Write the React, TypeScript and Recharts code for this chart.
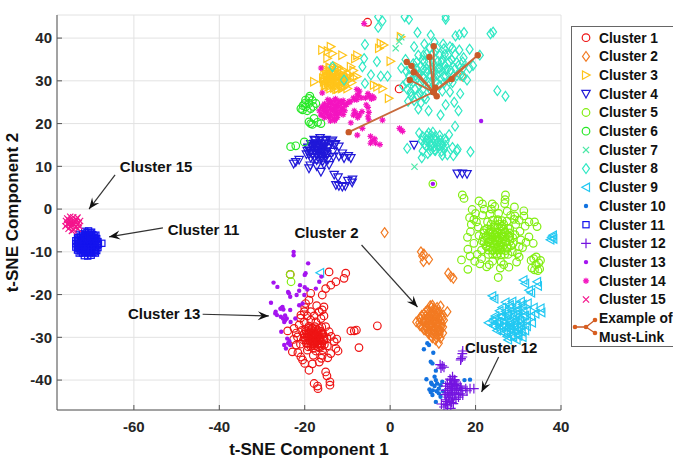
import { ScatterChart, Scatter, XAxis, YAxis, CartesianGrid, ReferenceLine } from 'recharts'

type Pt = [number, number]

const xTicks = [-60, -40, -20, 0, 20, 40]
const yTicks = [-40, -30, -20, -10, 0, 10, 20, 30, 40]

const cluster1: Pt[] = [[-14.3,-14.7],[-10.4,-15],[-10.8,-16.2],[-12.7,-17],[-13.9,-17.8],[-15.1,-18.6],[-15.9,-20.1],[-18.6,-19.7],[-19,-21.3],[-19.8,-22.1],[-15.5,-22.9],[-15.9,-23.6],[-16.6,-24],[-18.6,-24],[-20.1,-24],[-20.9,-24.8],[-16.2,-25.6],[-17.4,-26.4],[-18.6,-26],[-20.1,-26.4],[-21.3,-27.1],[-22.5,-27.9],[-24,-28.5],[-21.7,-29.9],[-14.3,-28.7],[-15.1,-27.5],[-13.1,-31],[-12.7,-32.6],[-12.2,-33.2],[-13.9,-33.8],[-15.9,-34.2],[-16.1,-34.9],[-18,-34.2],[-19.4,-33],[-22.9,-33.4],[-20.9,-34.6],[-20.5,-35.3],[-20,-36.1],[-19,-37.7],[-15.1,-38.1],[-14.8,-39],[-14.1,-40.4],[-14.1,-41.2],[-17.8,-40.8],[-17,-41.4],[-16.9,-42],[-9.2,-28.5],[-8.4,-28.5],[-7.9,-28.3],[-3,-27.3],[-7.3,-32.4],[-5.3,43.7],[2.1,28.1],[-23.4,-15.3],
[-17.9,-30.2],[-18.6,-29.6],[-17.2,-29.4],[-18.9,-30.8],[-17.1,-31],[-16.5,-30.2],[-19.4,-30],[-18,-28.9],[-17.8,-31.5],[-19.6,-31.4],[-16.4,-31.6],[-18.5,-28.2],[-17,-28.3],[-15.8,-29],[-20.1,-29.2],[-20.3,-30.6],[-15.5,-30.4],[-19.2,-32.2],[-18,-32.6],[-16.7,-32.4],[-15.4,-31.7],[-19.8,-28.2],[-16,-27.6],[-17.6,-27.5],[-19,-27.4],[-20.7,-28.4],[-14.8,-30.1],[-21,-31.6],[-14.7,-32],[-17.4,-33.2],[-15.8,-33],[-18.4,-30.2],[-17.5,-30.6],[-18.2,-31.1],[-16.9,-29.9],[-19,-29.2],[-18.1,-29.4]]
const cluster1Core: Pt[] = [[-19.1,-27.9],[-18.2,-27.8],[-17.3,-28],[-16.5,-27.9],[-19.7,-28.6],[-18.8,-28.7],[-17.9,-28.5],[-17.1,-28.7],[-16.2,-28.6],[-20.2,-29.3],[-19.4,-29.2],[-18.5,-29.4],[-17.6,-29.3],[-16.8,-29.2],[-15.9,-29.4],[-20,-30],[-19.1,-30.1],[-18.3,-29.9],[-17.4,-30],[-16.6,-30.1],[-15.7,-29.9],[-19.8,-30.7],[-18.9,-30.6],[-18,-30.8],[-17.2,-30.7],[-16.3,-30.6],[-15.6,-30.8],[-19.2,-31.4],[-18.4,-31.5],[-17.6,-31.3],[-16.8,-31.4],[-16,-31.5],[-18.6,-32.1],[-17.7,-32],[-16.9,-32.2],[-16.1,-32.1],[-21,-25.5],[-19.4,-25],[-17.8,-25],[-15.5,-25],[-22,-29],[-22.6,-30.5],[-13.8,-29.8],[-12.5,-30.4],[-20,-23],[-17.2,-22.6],[-22,-31.8],[-18.2,-36.2],[-16.6,-35.8],[-14.6,-34.8],[-21.6,-33.6]]
const cluster2: Pt[] = [[-1.3,-5.5],[7.5,-11],[7.9,-10.5],[9.1,-11.8],[7.2,-10],[7.8,-12.3],[13.6,-15],[14.2,-15.8],[14.8,-16.2],[9.9,-22.5],[11.8,-22.7],[13.4,-24],[12.6,-26],[11.4,-31.4],[10.6,-30.6],[11.8,-30.2],[6.1,-26.4],[7,-25.4],[7,-27.3],[7.9,-24.5],[7.9,-26.4],[7.9,-28.2],[8.8,-23.6],[8.8,-25.2],[8.8,-26.8],[8.8,-28.6],[9.7,-23],[9.7,-24.4],[9.7,-25.8],[9.7,-27.2],[9.7,-28.8],[9.7,-29.9],[10.6,-23.6],[10.6,-25],[10.6,-26.4],[10.6,-27.8],[10.6,-29],[11.5,-24],[11.5,-25.6],[11.5,-27],[11.5,-28.4],[11.5,-29.5],[12.4,-24.8],[12.4,-27.6],[12.4,-29],[9.2,-25.3],[10.1,-26.2],[9.3,-27],[10.2,-28.2],[11,-26.7],[8.4,-25.9],[8.4,-27.4],[11,-24.4],[16.9,31.1]]
const cluster2Core: Pt[] = [[8.3,-24],[9.2,-24.1],[10.1,-23.9],[11,-24],[7.4,-24.9],[8.3,-25],[9.2,-24.8],[10.1,-24.9],[11,-25],[11.9,-24.8],[7,-25.7],[7.9,-25.8],[8.8,-25.6],[9.7,-25.7],[10.6,-25.8],[11.5,-25.7],[12.3,-25.6],[6.8,-26.6],[7.7,-26.5],[8.6,-26.7],[9.5,-26.6],[10.4,-26.5],[11.3,-26.6],[12.1,-26.7],[7.5,-27.5],[8.4,-27.6],[9.3,-27.4],[10.2,-27.5],[11.1,-27.6],[12,-27.4],[8.2,-28.3],[9.1,-28.4],[10,-28.2],[10.9,-28.3],[11.8,-28.4],[9,-29.2],[9.9,-29.1],[10.8,-29.3],[11.6,-29.2],[9.9,-30.1],[10.8,-30],[10.2,-23.3],[9.4,-22.6],[11,-23]]
const cluster3: Pt[] = [[-15.9,37.2],[-13.9,38],[-14.6,37],[-11.2,36],[-14.7,35.3],[-13.5,36.4],[-9.2,33.3],[-17.8,29.8],[-7.7,36],[-8.2,35.2],[-2.2,38.8],[-2.6,37.6],[-1.5,38.4],[0.1,34.6],[-3.8,29],[-1.8,28.2],[-3,28.6],[-0.3,25.9],[2.5,40.3],[-13.5,30.6],[-14.6,29.6],[-12.4,29.8],[-14.9,31.6],[-13.5,32],[-12,31.2],[-15.2,30.4],[-13.2,29],[-14.4,28.6],[-11.2,30.2],[-10.8,32.4],[-12.4,33.4],[-14.2,33.2],[-15,32.6],[-11,28.4],[-12.6,28],[-15.3,28.8],[-10,31],[-9.6,30.2],[-8.6,30.8],[-13.8,30.9],[-13,30.4],[-14.2,30.2],[-12.8,31.6]]
const cluster3Core: Pt[] = [[-14,33],[-13.1,33.1],[-12.2,32.9],[-15,32.2],[-14.1,32.3],[-13.2,32.1],[-12.3,32.2],[-11.4,32.3],[-15.4,31.4],[-14.5,31.5],[-13.6,31.3],[-12.7,31.4],[-11.8,31.5],[-10.9,31.3],[-15.7,30.6],[-14.8,30.7],[-13.9,30.5],[-13,30.6],[-12.1,30.7],[-11.2,30.5],[-10.3,30.6],[-15.5,29.8],[-14.6,29.9],[-13.7,29.7],[-12.8,29.8],[-11.9,29.9],[-11,29.7],[-15,29],[-14.1,29.1],[-13.2,28.9],[-12.3,29],[-11.4,29.1],[-10.5,28.9],[-14,28.2],[-13.1,28.3],[-12.2,28.1],[-11.3,28.2],[-9.5,31.5],[-8.6,32.4],[-7.8,31],[-9,29.6],[-10,28.2]]
const cluster4: Pt[] = [[-22.1,11],[-21.3,11.5],[-19,9.5],[-18.7,10.2],[-16.2,8.7],[-13.1,8],[-12.7,5.6],[-11.2,5.2],[-10.5,5.4],[-8.8,6.9],[-9.9,6.6],[-9.2,11.9],[-10.8,11.9],[-11.2,13],[-12,14.6],[-14.3,10.3],[5.6,15],[15.7,8.3],[16.9,8.3],[18,8.2],[-16.6,14.2],[-17.6,13.6],[-15.6,13.4],[-18.2,14.8],[-16.9,15.4],[-15.4,15.2],[-14.4,14.2],[-18.7,13.2],[-17.2,12.6],[-16,12.4],[-14.8,12.8],[-19.2,14.2],[-17.8,16.2],[-16.4,16.6],[-15,16.2],[-13.8,15.6],[-13.4,13.4],[-18.6,12],[-17.2,11.4],[-15.8,11.2],[-14.6,11.5],[-19.6,12.8],[-16.2,13.6],[-17,14.2],[-16.9,13.1],[-15.9,14.7],[-17.7,15],[-13,15]]
const cluster4Core: Pt[] = [[-17.5,16],[-16.6,16.1],[-15.7,15.9],[-18.6,15.2],[-17.7,15.3],[-16.8,15.1],[-15.9,15.2],[-15,15.3],[-19.2,14.4],[-18.3,14.5],[-17.4,14.3],[-16.5,14.4],[-15.6,14.5],[-14.7,14.3],[-19.4,13.6],[-18.5,13.7],[-17.6,13.5],[-16.7,13.6],[-15.8,13.7],[-14.9,13.5],[-19,12.8],[-18.1,12.9],[-17.2,12.7],[-16.3,12.8],[-15.4,12.9],[-17.8,12],[-16.9,12.1],[-16,11.9],[-15.1,12],[-13.5,16],[-12.8,15.2],[-13.3,12.2],[-12,12.3],[-9.8,12.4],[-17.2,10],[-15.5,10.4],[-22.6,10.6],[-12.2,7.4],[-12,5.4],[-8.9,6.2]]
const cluster5: Pt[] = [[27,3.3],[26.8,1.3],[26.9,2.2],[20.8,1.9],[21.6,1.2],[23.9,1.2],[23.7,0],[19.2,-0.1],[29.1,0.5],[31.3,-0.4],[31.3,-1.6],[27.4,-0.5],[32.5,-3],[33.8,-3],[34.4,-4.1],[33.5,-8],[32.5,-6.5],[18.8,-5.3],[18.1,-6.6],[19.6,-8],[18.7,-11],[16.7,-11.9],[18.2,-14.1],[25.3,-16],[22.6,-13.5],[30.2,-11.2],[27.8,-13.6],[17.3,2.5],[16.9,3.3],[10,5.9],[-23.4,-15.3],[-23.2,-17],
[33,-12],[34.2,-11.2],[35.2,-12],[33.2,-13.8],[35,-14],[34.1,-13],[25.1,-7.3],[24,-6.6],[26.2,-6.4],[24.4,-8.2],[25.8,-8.4],[23.2,-7.6],[27,-7.6],[25,-5.4],[23.4,-5.4],[26.8,-5.4],[22.4,-6.4],[28,-6.4],[25.6,-9.6],[24,-9.6],[22.6,-8.8],[27.4,-9.2],[21.6,-7.5],[28.8,-8],[22,-5],[24.4,-4.2],[26.2,-4],[28,-4.6],[29.2,-6],[20.8,-6.2],[23,-10.6],[25,-10.8],[26.8,-10.6],[28.6,-10],[21.4,-9.6],[20.6,-4.2],[22.8,-3],[25.2,-2.8],[27.4,-2.8],[29.4,-3.6],[30.4,-5.2],[20.2,-3],[21.6,-1.4],[23.4,-1.2],[25.4,-1],[29.2,-1.6],[30.6,-7.2],[31,-9],[29.6,-12.4],[24,-12.2],[26,-12.4],[21.4,-11.6],[20.4,-10.6],[19.6,-2.4],[25,-6.5],[24.5,-7.3],[25.6,-7.2],[26,-5.9],[24.6,-6],[25.2,-8.9]]
const cluster5Core: Pt[] = [[23.6,-3.6],[24.6,-3.7],[25.6,-3.5],[26.6,-3.6],[22.6,-4.6],[23.6,-4.7],[24.6,-4.5],[25.6,-4.6],[26.6,-4.7],[27.6,-4.5],[22,-5.6],[23,-5.7],[24,-5.5],[25,-5.6],[26,-5.7],[27,-5.5],[28,-5.6],[21.8,-6.6],[22.8,-6.7],[23.8,-6.5],[24.8,-6.6],[25.8,-6.7],[26.8,-6.5],[27.8,-6.6],[28.7,-6.7],[22,-7.6],[23,-7.7],[24,-7.5],[25,-7.6],[26,-7.7],[27,-7.5],[28,-7.6],[22.4,-8.6],[23.4,-8.7],[24.4,-8.5],[25.4,-8.6],[26.4,-8.7],[27.4,-8.5],[28.3,-8.6],[23,-9.6],[24,-9.7],[25,-9.5],[26,-9.6],[27,-9.7],[24,-10.6],[25,-10.5],[26,-10.7],[27.6,-10.6],[24,-2.6],[25.2,-2.5],[26.2,-2.7],[20,-1],[22,0],[24.5,0.6],[28.2,-1.5],[30.2,-2.6],[31.6,-4],[31.8,-7.8],[30.2,-8.8],[29.8,-10.4],[21,-12.8],[19.8,-12.2],[23.2,-13],[25.8,-13.8],[26.6,-13],[18.2,-9.4],[19,-3.6],[18.6,-2],[29,-2.4],[33.6,-11.6],[34.8,-12.6],[33.8,-14.2],[34.6,-14.4]]
const cluster6: Pt[] = [[-19,25.9],[-17.4,24.7],[-20.9,23.5],[-19.8,23.9],[-19,24.7],[-19.8,25.5],[-18.6,23.5],[-20.5,23.2],[-19,20.4],[-17.8,21.2],[-16.2,20],[-18.6,20],[-23.3,14.6],[-22.1,14.8],[-20.1,15.7],[-18.2,25.4],[-20,24.7],[-20.4,24.2],[-18,24],[-19.4,23],[-18.8,26.4],[-17,20.3],[-18.2,19.8]]
const cluster7: Pt[] = [[1.3,37.6],[2.1,39.2],[2.6,40.2],[5.7,9.9]]
const cluster8: Pt[] = [[-2.8,45],[-1.8,44],[-2.8,42.5],[3.4,45],[4.4,44.4],[13,45],[13,44.4],[6.4,41.3],[9.5,40.7],[15.3,40.5],[17.3,41.3],[16.2,40.8],[23.5,41],[24.1,41.4],[-5.9,38.5],[-6.1,35.2],[-6.5,33.3],[-3.1,34.5],[-4.5,31.4],[-2.2,31.1],[-0.6,31.1],[-5.9,29.4],[-13.5,33.3],[-10.8,30.2],[25.1,27.7],[27,26.4],[18,30.2],[19.4,33.6],[18.6,37.4],[21,36],
[10,33],[8.6,32],[11.4,32],[7.2,33.4],[9,34.4],[11.2,34.6],[12.8,33.6],[14.2,32.4],[12.6,31],[10.2,30.6],[7.8,30.6],[5.8,32],[5.4,34],[6.6,36],[8.6,36.4],[10.6,37],[12.8,36.2],[14.4,35],[16,33.6],[15.6,31.2],[13.8,29.8],[11.6,29],[9,28.8],[6.8,29],[4.8,30],[3.8,32.2],[2.6,33],[3.6,35],[5.6,38],[8,38.6],[10.4,39],[12.4,38.6],[14,38],[16.2,37.2],[17.2,35.4],[18.6,33],[17.2,31],[3,28.8],[4.8,27.4],[7,27],[5.6,25.4],[7.2,24.8],[8.4,25.8],[4.2,25.2],[6.6,23.4],[9,23],[12.2,27.6],[14,27.4],[16.4,27],[15,25],[13,24.4],[16,23],[11.8,22],[8.6,32.8],[10.2,32],[11.6,33],[13,32.6],[6.6,31.4],[7.6,34.8],[12.2,35],
[10.2,16.6],[9,16],[11.2,15.8],[8,15.2],[9.6,15],[11,14.8],[12.2,15],[9,17.8],[10,18],[7.6,17],[12.8,16.4],[10.4,13.8],[7.6,13.6],[8.8,13],[7.4,12],[6.8,17.8],[15.2,19.4],[13.8,17.4],[12.6,14],[14.6,14.4],[15.6,13.6],[18.8,13.4],[15.8,14],[4,14.2]]
const cluster8Core: Pt[] = [[9.2,37.6],[11,37.7],[12.6,37.5],[14.6,37.6],[7.8,36],[9.8,36.1],[11.6,35.9],[13.6,36],[15.2,36.1],[6.2,34.4],[8,34.5],[10,34.3],[12,34.4],[13.8,34.5],[15.6,34.3],[17,34.4],[4.6,32.8],[6.2,32.9],[7.8,32.7],[9.6,32.8],[11.2,32.9],[13.4,32.7],[15.2,32.8],[17,32.9],[4.4,31.2],[6,31.3],[7.6,31.1],[9.4,31.2],[11,31.3],[13,31.1],[14.8,31.2],[16.4,31.3],[3.8,29.6],[5.4,29.7],[7.2,29.5],[9,29.6],[10.8,29.7],[12.6,29.5],[14.6,29.6],[4,28],[5.8,28.1],[7.6,27.9],[9.4,28],[5,26.4],[6.4,26.5],[8,26.3],[8.6,17.2],[9.6,17.3],[10.6,17.1],[11.6,17.2],[7.4,16],[8.4,16.1],[9.6,15.9],[10.6,16],[11.8,16.1],[13,15.9],[8.4,14.8],[9.4,14.9],[10.4,14.7],[11.6,14.8],[13,14.9],[9.4,13.6],[10.6,13.7],[12,13.5],[12.2,12.6],[13.4,12.7],[14.8,12.5]]
const cluster9: Pt[] = [[37.8,-6.6],[38.2,-7],[37.5,-7.2],[38.1,-6.1],[31.2,-16.6],[31.6,-17.4],[34.4,-17],[34.6,-18],[32.5,-19],[33,-19.6],[23.9,-20.3],[24.4,-21],[35.2,-23.2],[35.4,-24.2],[-16.4,-14.9],
[28.2,-26.8],[27,-26.4],[29.4,-26],[26.2,-27.6],[28,-28],[29.8,-27.8],[31,-26.8],[25,-26.4],[23,-26.6],[24,-27.2],[25,-28.4],[26.6,-29],[28.4,-29.6],[30,-29.4],[31.6,-28.4],[33.2,-26.6],[33,-25],[31.2,-25],[29.4,-24.6],[27.6,-24.6],[26,-25],[24.4,-25.6],[26.2,-23],[28,-23],[30,-23.4],[32,-23.8],[33.6,-23],[30.6,-21.6],[32.2,-22],[28.6,-21.6],[27,-21.8],[29.6,-30.6],[27.6,-30.6],[31,-30],[34,-24.5],[28.2,-27.4],[27.4,-27.8],[29,-27],[30.2,-28.2]]
const cluster9Core: Pt[] = [[28,-22.4],[29.6,-22.5],[31,-22.3],[25.6,-23.8],[27,-23.9],[28.4,-23.7],[29.8,-23.8],[31.2,-23.9],[24.6,-25],[26.2,-25.1],[27.4,-24.9],[28.8,-25],[30,-25.1],[31.6,-24.9],[24,-26.2],[25.4,-26.3],[26.6,-26.1],[28,-26.2],[29.2,-26.3],[30.4,-26.1],[32,-26.2],[24.4,-27.4],[25.6,-27.5],[26.8,-27.3],[28,-27.4],[29.2,-27.5],[30.6,-27.3],[32,-27.4],[26,-28.6],[27.2,-28.7],[28.4,-28.5],[29.6,-28.6],[30.8,-28.7],[27.4,-29.8],[28.8,-29.9],[30,-29.7]]
const cluster10: Pt[] = [[7.9,-32.8],[8.7,-31.4],[9.1,-31.8],[10.1,-33.6],[9.5,-35.7],[9.9,-36.1],[10.7,-37.8],[10.4,-39.2],[8.5,-39.8],[9.6,-40.6],[10.7,-40],[11,-40.8],[11.8,-41.2],[11.4,-42],[9.5,-42.8],[9.9,-43.5],[9.2,-42.2],[11.4,-43.1],[11.8,-43.9],[10.7,-45.1],[17.4,-40],[18.7,-39.9],[16.5,-42],[10.4,-41.4],[10.9,-42.6],[10,-42.4],[12.2,-40.4],[12.4,-42.6],[9.8,-41]]
const cluster11: Pt[] = [[-67.5,-8],[-71.5,-5.2],[-70.6,-5.1],[-69.9,-5.4],[-72.8,-5.9],[-72,-5.8],[-71.2,-6],[-70.4,-5.9],[-69.6,-6],[-68.9,-6.1],[-73.2,-6.7],[-72.5,-6.6],[-71.7,-6.6],[-70.9,-6.7],[-70.1,-6.6],[-69.3,-6.7],[-68.7,-6.9],[-73.6,-7.4],[-72.8,-7.3],[-72.1,-7.4],[-71.3,-7.3],[-70.5,-7.4],[-69.8,-7.3],[-69,-7.4],[-68.4,-7.6],[-73.6,-8.1],[-72.9,-8.1],[-72.1,-8],[-71.4,-8.1],[-70.6,-8],[-69.8,-8.1],[-69.1,-8],[-68.3,-8.2],[-73.6,-8.9],[-72.8,-8.8],[-72,-8.9],[-71.2,-8.8],[-70.5,-8.9],[-69.7,-8.8],[-69,-8.9],[-68.4,-9],[-73.2,-9.6],[-72.4,-9.6],[-71.7,-9.5],[-70.9,-9.6],[-70.1,-9.6],[-69.3,-9.5],[-68.7,-9.7],[-72.8,-10.3],[-72,-10.3],[-71.2,-10.2],[-70.4,-10.3],[-69.6,-10.2],[-69,-10.3],[-71.6,-10.9],[-70.8,-11],[-70,-10.8]]
const cluster11Core: Pt[] = [[-72.4,-6.3],[-71.6,-6.2],[-70.8,-6.3],[-70,-6.2],[-69.2,-6.3],[-73,-7],[-72.2,-7.1],[-71.4,-7],[-70.6,-7.1],[-69.8,-7],[-69,-7.1],[-73.2,-7.7],[-72.5,-7.8],[-71.7,-7.7],[-70.9,-7.8],[-70.2,-7.7],[-69.4,-7.8],[-68.6,-7.7],[-73.2,-8.5],[-72.4,-8.4],[-71.6,-8.5],[-70.9,-8.4],[-70.1,-8.5],[-69.3,-8.4],[-68.6,-8.5],[-72.9,-9.2],[-72.2,-9.3],[-71.4,-9.2],[-70.7,-9.3],[-69.9,-9.2],[-69.2,-9.3],[-72.4,-10],[-71.6,-9.9],[-70.7,-10],[-69.9,-9.9],[-69.2,-10],[-71,-5.5],[-70.2,-5.6]]
const cluster12: Pt[] = [[16.9,-33.8],[16.5,-35.3],[16.9,-34.6],[12.2,-36.7],[11.7,-36.4],[12.6,-37],[14.6,-39.2],[14.2,-40],[15.2,-40],[14,-41],[15,-41],[14.6,-41.8],[13.8,-42],[15.6,-42],[16.6,-41.8],[18.7,-42],[17.7,-42],[19.6,-42],[14.2,-43],[15.2,-43],[16.4,-43.2],[16,-44],[13.6,-44],[14.6,-44.2],[13.2,-45],[14.4,-45.2],[12.6,-46.3],[14.2,-46.6],[13.4,-46],[15,-40.4],[13.4,-43],
[14,-39.8],[15,-39.9],[13.4,-40.8],[14.4,-40.7],[15.6,-40.9],[13,-41.4],[14.2,-41.5],[15.4,-41.3],[16.4,-41.4],[13,-42.4],[14.4,-42.5],[15.6,-42.3],[16.8,-42.4],[18,-42.5],[12.8,-43.4],[13.8,-43.5],[15,-43.3],[16,-43.4],[17,-43.5],[13,-44.6],[14,-44.7],[15.4,-44.5],[12,-45.6],[13,-45.7],[14.8,-45.5],[16.6,-35],[17,-33.2],[11.9,-37.2]]
const cluster13: Pt[] = [[-22.6,-10],[-22.6,-10.8],[-19.2,-12.7],[-20,-15.4],[-27.3,-17.2],[-26.4,-18.2],[-21.1,-17.8],[-20,-18.3],[-19.4,-18.8],[-17.4,-18.6],[-16.6,-17],[-16.1,-15.8],[-23.7,-19.7],[-23.4,-20.5],[-21.3,-19.1],[-21.9,-20.1],[-20.1,-20.1],[-27.9,-21.9],[-25.2,-22.9],[-25,-23.5],[-23.4,-23.6],[-26.8,-24],[-26.5,-24.8],[-25.6,-25.2],[-24.2,-25.6],[-24.8,-26.4],[-23.3,-26.4],[-22.2,-25.6],[-21.3,-22.5],[-20.5,-22.1],[-25.5,-28.7],[-24.1,-30.3],[-23.4,-31.8],[-24.8,-31.8],[-24.4,-32.6],[-23.9,-31.4],[-26.9,-24.4],[-25.4,-23.1],[-24.6,-26],[21.3,20.6],[10,5.9],[-23.9,-19.4],[-25.7,-23.3],[-24.6,-24.9],[-25.1,-25.6],[-19.8,-15],[-23.6,-30.9]]
const cluster14: Pt[] = [[-13.5,23.2],[-14.6,24],[-12.4,24.2],[-15.2,22.8],[-13.8,25],[-12.4,22.2],[-14.2,21.8],[-16.2,22],[-15.8,24],[-11.2,23.4],[-11.4,25],[-12.8,25.8],[-14.6,25.6],[-13,21],[-10.2,24.4],[-9.6,25.2],[-8.4,25.6],[-7.7,26.7],[-7.2,27.6],[-4.9,26.3],[-5.8,26],[-4.2,26.4],[-8,22.4],[-7.2,22],[-8.4,23],[-5.2,23.8],[-5.2,21.6],[-9.2,20.2],[-1.8,20.8],[2.6,18.5],[-6.5,18.9],[-7.7,17.3],[-4.2,16],[-4.6,17],[-2.4,15.1],[-16.2,33],[-15.9,27.2],[-6.1,43.4]]
const cluster14Core: Pt[] = [[-14,25.4],[-13,25.5],[-12,25.3],[-11,25.4],[-15.4,24.6],[-14.4,24.7],[-13.4,24.5],[-12.4,24.6],[-11.4,24.7],[-10.4,24.5],[-16,23.8],[-15,23.9],[-14,23.7],[-13,23.8],[-12,23.9],[-11,23.7],[-16.6,23],[-15.6,23.1],[-14.6,22.9],[-13.6,23],[-12.6,23.1],[-11.6,22.9],[-10.6,23],[-16,22.2],[-15,22.3],[-14,22.1],[-13,22.2],[-12,22.3],[-11,22.1],[-15.4,21.4],[-14.4,21.5],[-13.4,21.3],[-12.4,21.4],[-14,20.6],[-13,20.7],[-9.4,25],[-8.6,26],[-7.8,25.6],[-7.4,26.6],[-6.8,26],[-7.8,28],[-5.2,27],[-4.4,25.8],[-3.8,26],[-7.6,21.4],[-8.6,22],[-6.6,22.8],[-5.6,24.4],[-5,22.6],[-5,20.9],[2.2,18.9],[2.9,18.2],[-4.6,15.4],[-3.6,16.4],[-3.4,15.4]]
const cluster15: Pt[] = [[-74.3,-3.3],[-75.2,-2.6],[-73.5,-2.4],[-74.8,-4.1],[-73.6,-4.2],[-75.6,-3.5],[-72.9,-3.3],[-74.2,-1.9],[-74.9,-1.8],[-73.2,-2],[-75.9,-2.8],[-76,-4],[-74.9,-3.1],[-73.9,-3.6],[-74.4,-2.8],[-75.3,-4.6],[-74.1,-4.9],[-73.1,-4.6],[-72.6,-2.8],[-74.6,-3.7],[-73.7,-3],[-75,-3.4],[-72.8,-4],[-74.5,-5.1],[-75.6,-2.2]]
// spokes out from the shared point, so the path goes back through it each time
const mustLink: Pt[] = [[10.2,27.4],[20.5,36],[14.4,30.4],[10.2,27.4],[-9.7,18],[10.2,27.4],[10.2,38.1],[10.2,27.4],[9.2,35.6],[10.2,27.4],[3.9,34.4],[5,33.5],[10.2,27.4],[5.5,32],[10.2,27.4],[4.6,30.2],[10.2,27.4],[10.6,28.4],[10.9,26.4]]

const clusterNames = ['Cluster 1', 'Cluster 2', 'Cluster 3', 'Cluster 4', 'Cluster 5', 'Cluster 6', 'Cluster 7', 'Cluster 8', 'Cluster 9', 'Cluster 10', 'Cluster 11', 'Cluster 12', 'Cluster 13', 'Cluster 14', 'Cluster 15']
const clusterColors = ['#ee1414', '#f27a22', '#ffc41a', '#2018d8', '#82ee10', '#26e826', '#4de8a8', '#30e8c4', '#22c8f2', '#1272e0', '#1414ee', '#7414e0', '#a414f0', '#f414c0', '#f4148c']
const clusterMarkers = ['circle', 'diamond', 'right', 'down', 'circle', 'circle', 'x', 'diamond', 'left', 'dot', 'square', 'plus', 'dot', 'star', 'x']
const clusterPoints = [
  [...cluster1, ...cluster1Core], [...cluster2, ...cluster2Core], [...cluster3, ...cluster3Core], [...cluster4, ...cluster4Core],
  [...cluster5, ...cluster5Core], cluster6, cluster7, [...cluster8, ...cluster8Core], [...cluster9, ...cluster9Core], cluster10,
  [...cluster11, ...cluster11Core], cluster12, cluster13, [...cluster14, ...cluster14Core], cluster15,
]

const arrowStart: Pt[] = [[-64.4,8],[-53.2,-4.4],[-6.7,-8.4],[-43.9,-24.6],[25.4,-34.6]]
const arrowEnd: Pt[] = [[-70.5,0],[-65.8,-6.5],[6.4,-22.9],[-28.4,-25],[21.4,-42.8]]
const arrowLabels = ['Cluster 15', 'Cluster 11', 'Cluster 2', 'Cluster 13', 'Cluster 12']
const labelAt: Pt[] = [[-54.8,10],[-43.7,-4.9],[-14.9,-5.6],[-52.9,-24.6],[26,-32.5]]

const FONT = '"Liberation Sans", Arial, sans-serif'

function marker(kind: string, x: number, y: number, color: string) {
  const s = { fill: 'none', stroke: color, strokeWidth: 1.2 }
  const r = kind === 'circle' ? 3.8 : kind === 'square' || kind === 'x' || kind === 'star' ? 3.1 : 3.5
  if (kind === 'circle') return <circle cx={x} cy={y} r={r} {...s} />
  if (kind === 'diamond') return <polygon points={`${x},${y - r * 1.4} ${x + r},${y} ${x},${y + r * 1.4} ${x - r},${y}`} {...s} />
  if (kind === 'right') return <polygon points={`${x + r * 1.2},${y} ${x - r},${y - r * 1.2} ${x - r},${y + r * 1.2}`} {...s} />
  if (kind === 'left') return <polygon points={`${x - r * 1.2},${y} ${x + r},${y - r * 1.2} ${x + r},${y + r * 1.2}`} {...s} />
  if (kind === 'down') return <polygon points={`${x},${y + r * 1.2} ${x - r * 1.2},${y - r} ${x + r * 1.2},${y - r}`} {...s} />
  if (kind === 'square') return <rect x={x - r} y={y - r} width={r * 2} height={r * 2} {...s} />
  if (kind === 'dot') return <circle cx={x} cy={y} r={2.2} fill={color} />
  if (kind === 'x') return <path d={`M${x - r},${y - r}L${x + r},${y + r}M${x - r},${y + r}L${x + r},${y - r}`} {...s} />
  if (kind === 'plus') return <path d={`M${x - r * 1.4},${y}H${x + r * 1.4}M${x},${y - r * 1.4}V${y + r * 1.4}`} {...s} />
  // star
  return <path d={`M${x - r},${y}H${x + r}M${x},${y - r}V${y + r}M${x - r * 0.7},${y - r * 0.7}L${x + r * 0.7},${y + r * 0.7}M${x - r * 0.7},${y + r * 0.7}L${x + r * 0.7},${y - r * 0.7}`} {...s} />
}

function LegendBox() {
  return (
    <svg width={104} height={322} style={{ position: 'absolute', left: 571, top: 26, overflow: 'visible' }}>
      <rect x={0.5} y={0.5} width={110} height={320} fill="#fff" stroke="#666" />
      {clusterNames.map((name, i) => (
        <g key={name}>
          {marker(clusterMarkers[i], 15, 11.7 + i * 18.7, clusterColors[i])}
          <text x={28} y={16.5 + i * 18.7} fontSize={13.8} fontWeight="bold" fontFamily={FONT} fill="#111">{name}</text>
        </g>
      ))}
      <path d="M4,301H15L24,294M15,301L24,307" stroke="#c85a28" strokeWidth={1.3} fill="none" />
      {[[4, 301], [15, 301], [24, 294], [24, 307]].map(([x, y]) => (
        <circle key={`${x}-${y}`} cx={x} cy={y} r={2.3} fill="#d85e20" />
      ))}
      <text x={28} y={297} fontSize={13.8} fontWeight="bold" fontFamily={FONT} fill="#111">Example of</text>
      <text x={28} y={316} fontSize={13.8} fontWeight="bold" fontFamily={FONT} fill="#111">Must-Link</text>
    </svg>
  )
}

export default function App() {
  return (
    <div style={{ position: 'absolute', left: 0, top: 0, width: 673, height: 458, overflow: 'hidden', background: '#fff' }}>
      <ScatterChart width={673} height={458} margin={{ top: 15, right: 112, bottom: 0, left: 0 }}>
        <CartesianGrid stroke="#e2e2e2" strokeWidth={1} />
        <XAxis
          type="number"
          dataKey="x"
          domain={[-78, 40]}
          ticks={xTicks}
          height={48}
          allowDataOverflow
          stroke="#555"
          tickSize={-5}
          tickMargin={16}
          tick={{ fontSize: 15, fontWeight: 'bold', fontFamily: FONT, fill: '#262626' }}
          label={{ value: 't-SNE Component 1', position: 'insideBottom', offset: 3, fontSize: 17, fontWeight: 'bold', fontFamily: FONT, fill: '#111' }}
        />
        <YAxis
          type="number"
          dataKey="y"
          domain={[-47, 45.4]}
          ticks={yTicks}
          width={57}
          allowDataOverflow
          stroke="#555"
          tickSize={-5}
          tickMargin={10}
          tick={{ fontSize: 15, fontWeight: 'bold', fontFamily: FONT, fill: '#262626' }}
          label={{ value: 't-SNE Component 2', angle: -90, position: 'insideLeft', offset: 12, style: { textAnchor: 'middle' }, fontSize: 17, fontWeight: 'bold', fontFamily: FONT, fill: '#111' }}
        />
        {clusterNames.map((name, i) => (
          <Scatter
            key={name}
            name={name}
            data={clusterPoints[i].map(([x, y]) => ({ x, y }))}
            isAnimationActive={false}
            shape={(p: any) => marker(clusterMarkers[i], p.cx, p.cy, clusterColors[i])}
          />
        ))}
        <Scatter
          name="Example of Must-Link"
          data={mustLink.map(([x, y]) => ({ x, y }))}
          isAnimationActive={false}
          line={{ stroke: '#c86a3c', strokeWidth: 1.8 }}
          lineType="joint"
          shape={(p: any) => <circle cx={p.cx} cy={p.cy} r={3.2} fill="#c85a28" />}
        />
        {arrowLabels.map((label, i) => (
          <ReferenceLine
            key={label}
            segment={[
              { x: arrowStart[i][0], y: arrowStart[i][1] },
              { x: arrowEnd[i][0], y: arrowEnd[i][1] },
            ]}
            shape={(p: any) => {
              const a = Math.atan2(p.y2 - p.y1, p.x2 - p.x1)
              const head = (d: number, w: number) =>
                `${p.x2 - d * Math.cos(a) - w * Math.sin(a)},${p.y2 - d * Math.sin(a) + w * Math.cos(a)}`
              const lx = p.x1 + (labelAt[i][0] - arrowStart[i][0]) * 4.275
              const ly = p.y1 - (labelAt[i][1] - arrowStart[i][1]) * 4.275
              return (
                <g>
                  <line x1={p.x1} y1={p.y1} x2={p.x2} y2={p.y2} stroke="#333" strokeWidth={1.2} />
                  <polygon points={`${p.x2},${p.y2} ${head(11, 4.5)} ${head(7, 0)} ${head(11, -4.5)}`} fill="#111" />
                  <text x={lx} y={ly} dy="0.35em" textAnchor="middle" fontSize={15} fontWeight="bold" fontFamily={FONT} fill="#111">{label}</text>
                </g>
              )
            }}
          />
        ))}
      </ScatterChart>
      <LegendBox />
    </div>
  )
}
